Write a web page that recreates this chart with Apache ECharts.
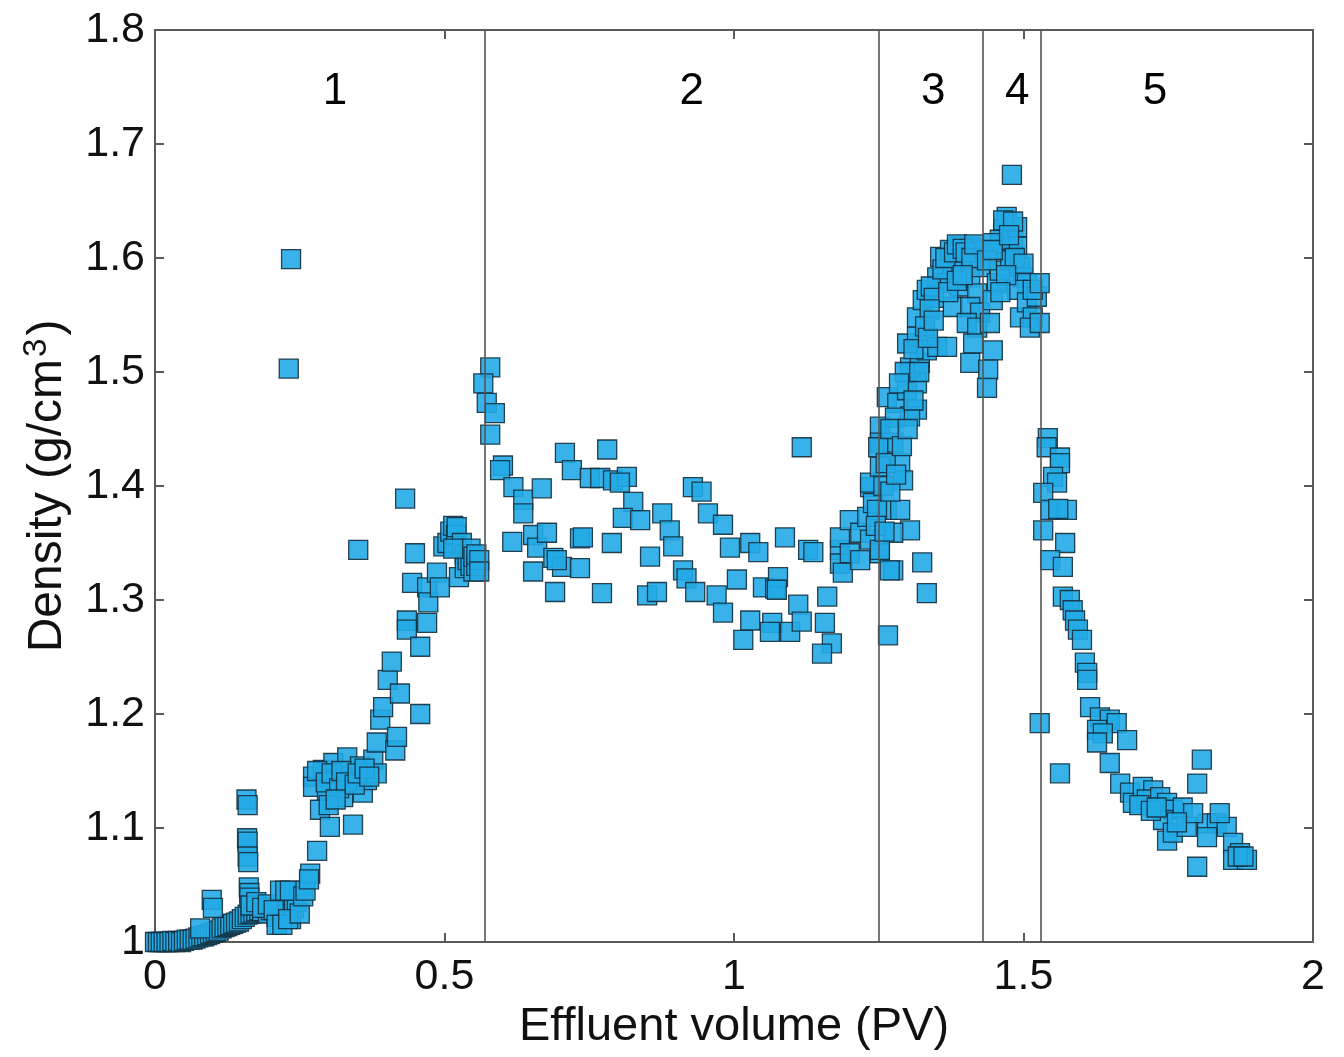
<!DOCTYPE html>
<html>
<head>
<meta charset="utf-8">
<script src="https://cdn.jsdelivr.net/npm/echarts@6/dist/echarts.min.js"></script>
<style>
html,body{margin:0;padding:0;background:#fff;}
#chart{width:1344px;height:1057px;}
</style>
</head>
<body>
<div id="chart"></div>
<script>
// ---- data: [effluent volume (PV), density (g/cm3)] ----
const zone1Points = [
[0.000,1.000],[0.005,1.000],[0.010,1.000],[0.015,1.000],[0.020,1.000],[0.025,1.000],[0.030,1.001],[0.035,1.000],[0.040,1.001],[0.045,1.000],
[0.050,1.001],[0.055,1.002],[0.060,1.002],[0.065,1.002],[0.070,1.003],[0.075,1.004],[0.080,1.005],[0.085,1.005],[0.090,1.006],[0.095,1.007],
[0.100,1.008],[0.105,1.009],[0.110,1.010],[0.115,1.012],[0.120,1.013],[0.125,1.014],[0.130,1.015],[0.135,1.016],[0.140,1.017],[0.145,1.018],
[0.150,1.020],[0.155,1.022],[0.160,1.024],[0.165,1.025],[0.170,1.026],[0.175,1.027],[0.180,1.028],[0.185,1.027],[0.190,1.030],[0.195,1.025],
[0.200,1.028],[0.205,1.030],[0.210,1.022],[0.215,1.030],[0.220,1.020],[0.225,1.028],[0.230,1.032],[0.235,1.020],[0.240,1.030],[0.245,1.035],
[0.098,1.037],[0.100,1.030],[0.078,1.012],
[0.158,1.125],[0.160,1.120],[0.159,1.091],[0.160,1.088],[0.160,1.075],[0.161,1.070],[0.162,1.048],[0.163,1.043],[0.163,1.039],[0.165,1.032],
[0.175,1.035],[0.185,1.030],[0.195,1.033],[0.205,1.028],
[0.216,1.045],[0.225,1.045],[0.233,1.045],[0.210,1.015],[0.220,1.015],[0.230,1.020],
[0.250,1.025],[0.256,1.040],[0.260,1.045],[0.268,1.060],[0.266,1.055],[0.280,1.080],
[0.235,1.599],[0.231,1.503],
[0.273,1.145],[0.273,1.136],[0.285,1.116],[0.290,1.151],[0.297,1.133],[0.302,1.101],[0.308,1.157],[0.314,1.142],[0.325,1.127],[0.332,1.162],
[0.337,1.145],[0.342,1.103],[0.354,1.154],[0.359,1.131],[0.366,1.142],[0.377,1.160],[0.383,1.148],[0.383,1.175],[0.389,1.195],[0.394,1.206],
[0.402,1.230],[0.409,1.246],[0.415,1.168],[0.418,1.180],[0.423,1.218],[0.435,1.282],[0.435,1.274],[0.444,1.315],[0.458,1.259],[0.458,1.200],
[0.470,1.280],[0.470,1.311],[0.472,1.298],[0.487,1.324],[0.492,1.311],[0.498,1.347],[0.432,1.389],[0.351,1.344],[0.449,1.341],
[0.280,1.150],[0.295,1.140],[0.305,1.148],[0.318,1.135],[0.322,1.150],[0.330,1.140],[0.345,1.138],[0.350,1.148],[0.362,1.152],[0.370,1.145],
[0.300,1.120],[0.312,1.125],
[0.505,1.350],[0.510,1.360],[0.515,1.365],[0.520,1.357],[0.521,1.364],[0.525,1.320],[0.530,1.350],[0.535,1.340],[0.535,1.328],[0.540,1.335],
[0.545,1.330],[0.545,1.345],[0.550,1.325],[0.550,1.338],[0.555,1.330],[0.555,1.340],[0.560,1.335],[0.560,1.325],[0.515,1.345]
];
const zone2Points = [
[0.579,1.504],[0.567,1.490],[0.573,1.473],[0.587,1.464],[0.579,1.445],[0.601,1.418],[0.596,1.414],[0.619,1.399],[0.636,1.388],[0.636,1.376],
[0.668,1.398],[0.617,1.351],[0.653,1.357],[0.660,1.346],[0.677,1.359],[0.688,1.337],[0.653,1.325],[0.703,1.329],[0.734,1.328],[0.691,1.307],
[0.772,1.306],[0.708,1.429],[0.720,1.414],[0.781,1.432],[0.751,1.407],[0.769,1.407],[0.791,1.405],[0.815,1.408],[0.803,1.403],[0.826,1.386],
[0.734,1.354],[0.739,1.355],[0.789,1.350],[0.808,1.372],[0.838,1.370],[0.855,1.338],[0.876,1.376],[0.889,1.361],[0.895,1.347],[0.850,1.304],
[0.867,1.307],[0.912,1.326],[0.918,1.319],[0.933,1.307],[0.970,1.304],[0.981,1.289],[0.929,1.399],[0.944,1.395],[0.955,1.376],[0.981,1.366],
[0.993,1.346],[1.005,1.318],[1.028,1.350],[1.042,1.342],[1.016,1.265],[1.028,1.282],[1.050,1.311],[1.071,1.310],[1.076,1.320],[1.088,1.355],
[1.066,1.280],[1.117,1.434],[1.128,1.344],[1.137,1.342],[1.074,1.309],[1.062,1.272],[1.097,1.272],[1.111,1.296],[1.117,1.281],[1.161,1.303],
[1.157,1.280],[1.169,1.262],[1.152,1.253],[1.183,1.344],[1.183,1.332],[1.188,1.324],[1.183,1.355],[1.200,1.370],[1.200,1.341],[1.218,1.359],
[1.218,1.335],[1.230,1.373],[1.235,1.353],[1.235,1.399],[1.240,1.385],[1.235,1.403],[0.694,1.335]
];
const zone3Points = [
[1.264,1.478],[1.252,1.452],[1.282,1.473],[1.299,1.484],[1.316,1.467],[1.304,1.461],[1.252,1.438],[1.275,1.438],[1.287,1.420],[1.252,1.417],
[1.292,1.405],[1.264,1.379],[1.287,1.379],[1.304,1.361],[1.275,1.359],[1.252,1.341],[1.275,1.326],[1.325,1.333],[1.333,1.306],[1.266,1.269],
[1.249,1.434],[1.252,1.344],[1.269,1.326],[1.247,1.379],
[1.316,1.490],[1.304,1.504],[1.321,1.508],[1.299,1.525],[1.316,1.531],[1.333,1.519],[1.351,1.522],[1.368,1.522],[1.316,1.548],[1.326,1.563],
[1.333,1.572],[1.351,1.583],[1.378,1.557],[1.356,1.601],[1.373,1.607],[1.390,1.610],[1.408,1.610],[1.420,1.607],[1.396,1.598],[1.378,1.589],
[1.368,1.578],[1.390,1.575],[1.408,1.583],[1.425,1.592],[1.420,1.569],[1.408,1.557],[1.425,1.552],[1.402,1.543],[1.420,1.539],[1.413,1.525],
[1.408,1.508],
[1.340,1.575],[1.345,1.565],[1.360,1.590],[1.365,1.600],[1.380,1.605],[1.385,1.612],[1.395,1.608],[1.400,1.605],[1.410,1.600],[1.415,1.612],
[1.370,1.570],[1.385,1.580],[1.395,1.585],[1.338,1.555],[1.330,1.540],[1.310,1.520],[1.295,1.500],[1.285,1.490],[1.278,1.460],[1.270,1.450],
[1.262,1.420],[1.258,1.400],[1.245,1.365],[1.260,1.360],[1.270,1.395],[1.280,1.410],[1.290,1.435],[1.300,1.450],[1.310,1.475],[1.320,1.500],
[1.335,1.530],[1.345,1.545]
];
const zone4Points = [
[1.447,1.519],[1.439,1.502],[1.437,1.486],[1.454,1.578],[1.447,1.563],[1.442,1.543],[1.459,1.589],[1.471,1.607],[1.465,1.625],[1.482,1.618],
[1.489,1.610],[1.477,1.598],[1.494,1.592],[1.499,1.583],[1.506,1.578],[1.489,1.572],[1.494,1.548],[1.506,1.561],[1.516,1.548],[1.523,1.566],
[1.516,1.572],[1.511,1.539],[1.459,1.616],[1.471,1.636],[1.489,1.627],[1.447,1.613],[1.437,1.598],[1.447,1.607],[1.480,1.673],[1.465,1.633],
[1.482,1.632],[1.475,1.620],[1.485,1.600],[1.500,1.595],[1.470,1.585],[1.460,1.570],[1.528,1.578],[1.528,1.543]
];
const zone5Points = [
[1.542,1.442],[1.540,1.434],[1.563,1.425],[1.563,1.420],[1.551,1.408],[1.558,1.403],[1.534,1.394],[1.546,1.379],[1.575,1.379],[1.560,1.380],
[1.534,1.361],[1.572,1.350],[1.546,1.335],[1.568,1.329],[1.568,1.303],[1.580,1.300],[1.585,1.291],[1.589,1.282],[1.594,1.274],[1.601,1.265],
[1.606,1.245],[1.610,1.236],[1.610,1.230],[1.615,1.206],[1.528,1.192],[1.632,1.197],[1.649,1.195],[1.661,1.192],[1.627,1.186],[1.637,1.183],
[1.679,1.177],[1.627,1.175],[1.649,1.157],[1.563,1.148],[1.667,1.139],[1.684,1.131],[1.689,1.122],[1.706,1.136],[1.724,1.133],[1.713,1.125],
[1.736,1.127],[1.748,1.122],[1.758,1.116],[1.775,1.118],[1.741,1.107],[1.748,1.089],[1.758,1.096],[1.782,1.101],[1.800,1.139],[1.808,1.160],
[1.800,1.066],[1.817,1.104],[1.834,1.104],[1.851,1.101],[1.817,1.092],[1.862,1.087],[1.874,1.078],[1.862,1.072],[1.886,1.072],[1.793,1.113],
[1.839,1.113],[1.700,1.120],[1.720,1.115],[1.730,1.118],[1.765,1.105],[1.870,1.075],[1.880,1.075]
];
const zoneBoundaries = [0.566, 1.245, 1.430, 1.528];
const zoneLabels = ['1', '2', '3', '4', '5'];
const zoneLabelX = [0.311, 0.927, 1.344, 1.489, 1.727];
const zoneLabelY = 1.746;
const xTicks = [0, 0.5, 1, 1.5, 2];
const yTicks = [1, 1.1, 1.2, 1.3, 1.4, 1.5, 1.6, 1.7, 1.8];

const FONT = "'Liberation Sans', Arial, Helvetica, sans-serif";
const allPoints = zone1Points.concat(zone2Points, zone3Points, zone4Points, zone5Points);

const chart = echarts.init(document.getElementById('chart'), null, {renderer: 'canvas'});
const axisLineStyle = {color: '#5a5a5a', width: 2};
const option = {
  animation: false,
  backgroundColor: '#ffffff',
  grid: {left: 155, right: 31, top: 30, bottom: 115, containLabel: false},
  xAxis: [{
    type: 'value', min: xTicks[0], max: xTicks[xTicks.length - 1], interval: 0.5,
    position: 'bottom',
    name: 'Effluent volume (PV)', nameLocation: 'middle', nameGap: 58,
    nameTextStyle: {fontFamily: FONT, fontSize: 47, color: '#111'},
    axisLine: {show: true, onZero: false, lineStyle: axisLineStyle},
    axisTick: {show: true, inside: true, length: 9, lineStyle: axisLineStyle},
    axisLabel: {fontFamily: FONT, fontSize: 43, color: '#111', margin: 14},
    splitLine: {show: false}
  }, {
    type: 'value', min: xTicks[0], max: xTicks[xTicks.length - 1], interval: 0.5,
    position: 'top',
    axisLine: {show: true, onZero: false, lineStyle: axisLineStyle},
    axisTick: {show: true, inside: true, length: 9, lineStyle: axisLineStyle},
    axisLabel: {show: false}, splitLine: {show: false}
  }],
  yAxis: [{
    type: 'value', min: yTicks[0], max: yTicks[yTicks.length - 1], interval: 0.1,
    position: 'left',
    name: 'Density (g/cm{sup|3})', nameLocation: 'middle', nameGap: 80, nameRotate: 90,
    nameTextStyle: {
      fontFamily: FONT, fontSize: 48, color: '#111', lineHeight: 54,
      rich: {sup: {fontFamily: FONT, fontSize: 33, color: '#111', verticalAlign: 'top', lineHeight: 54, padding: [0, 3, 0, 2]}}
    },
    axisLine: {show: true, onZero: false, lineStyle: axisLineStyle},
    axisTick: {show: true, inside: true, length: 9, lineStyle: axisLineStyle},
    axisLabel: {fontFamily: FONT, fontSize: 43, color: '#111', margin: 10},
    splitLine: {show: false}
  }, {
    type: 'value', min: yTicks[0], max: yTicks[yTicks.length - 1], interval: 0.1,
    position: 'right',
    axisLine: {show: true, onZero: false, lineStyle: axisLineStyle},
    axisTick: {show: true, inside: true, length: 9, lineStyle: axisLineStyle},
    axisLabel: {show: false}, splitLine: {show: false}
  }],
  series: [{
    type: 'scatter',
    xAxisIndex: 0, yAxisIndex: 0,
    data: allPoints,
    symbol: 'rect',
    symbolSize: 19,
    itemStyle: {color: '#22aae6', borderColor: '#14303e', borderWidth: 1.3, opacity: 0.9},
    silent: true,
    markLine: {
      silent: true, symbol: 'none', animation: false,
      label: {show: false},
      lineStyle: {color: '#555', width: 1.6, type: 'solid'},
      data: zoneBoundaries.map(v => ({xAxis: v}))
    },
    z: 3
  }, {
    type: 'scatter',
    xAxisIndex: 0, yAxisIndex: 0,
    data: zoneLabelX.map((x, i) => ({value: [x, zoneLabelY], name: zoneLabels[i]})),
    symbol: 'circle',
    symbolSize: 1,
    itemStyle: {color: '#ffffff', opacity: 1, borderWidth: 0},
    label: {show: true, position: 'inside', formatter: '{b}', fontFamily: FONT, fontSize: 44, color: '#000000', textBorderWidth: 0},
    silent: true,
    z: 4
  }]
};
chart.setOption(option);
</script>
</body>
</html>
